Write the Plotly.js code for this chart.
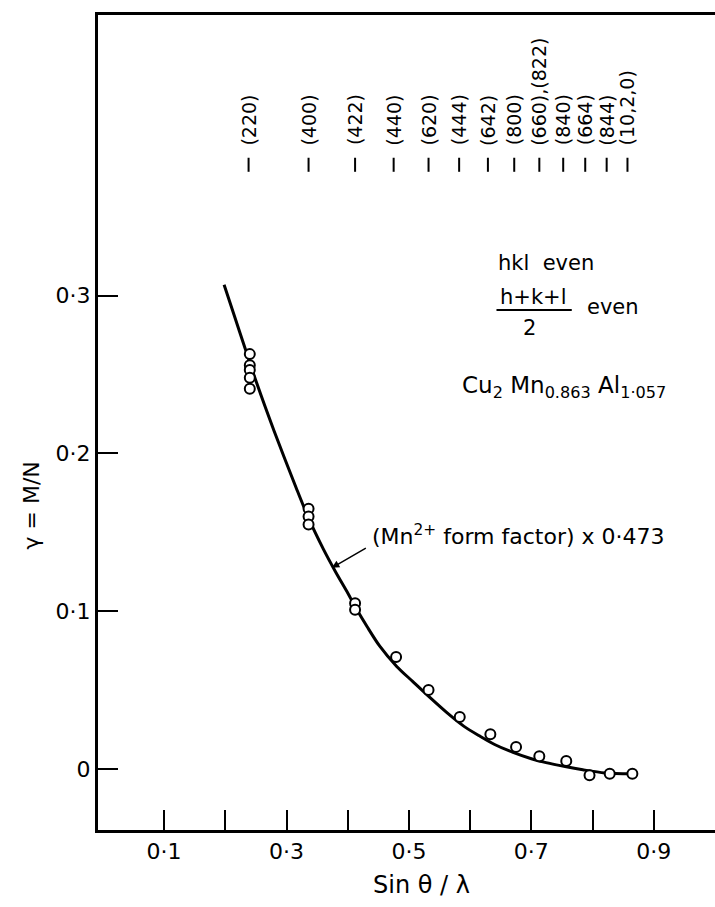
<!DOCTYPE html>
<html>
<head>
<meta charset="utf-8">
<script src="https://cdn.plot.ly/plotly-3.0.1.min.js"></script>
<style>html,body{margin:0;padding:0;background:#fff;}#chart{width:715px;height:907px;}</style>
</head>
<body>
<div id="chart"></div>
<script>
// Reflection labels and their sin(theta)/lambda positions
const hklLabels = ['(220)','(400)','(422)','(440)','(620)','(444)','(642)','(800)','(660),(822)','(840)','(664)','(844)','(10,2,0)'];
const hklPos = [0.238,0.336,0.412,0.475,0.532,0.582,0.629,0.672,0.713,0.752,0.788,0.823,0.857];

// Measured points gamma = M/N
const ptX = [0.240,0.240,0.240,0.240,0.240, 0.336,0.336,0.336, 0.412,0.412, 0.479,0.532,0.583,0.633,0.675,0.713,0.757,0.795,0.828,0.865];
const ptY = [0.263,0.256,0.253,0.248,0.241, 0.165,0.160,0.155, 0.105,0.101, 0.071,0.050,0.033,0.022,0.014,0.008,0.005,-0.004,-0.003,-0.003];

// Curve: (Mn2+ form factor) x 0.473
const curveX = [0.198,0.215,0.232,0.251,0.280,0.316,0.336,0.360,0.380,0.400,0.412,0.432,0.452,0.480,0.506,0.535,0.561,0.590,0.615,0.640,0.670,0.700,0.724,0.755,0.784,0.820,0.865];
const curveY = [0.307,0.287,0.267,0.245,0.214,0.178,0.159,0.1395,0.125,0.1115,0.103,0.090,0.078,0.065,0.0555,0.045,0.036,0.027,0.021,0.0155,0.0105,0.0065,0.004,0.0015,-0.0005,-0.0025,-0.003];

// Axis ticks
const xTickVals = [0.1,0.2,0.3,0.4,0.5,0.6,0.7,0.8,0.9];
const xTickText = ['0·1','','0·3','','0·5','','0·7','','0·9'];
const yTickVals = [0,0.1,0.2,0.3];
const yTickText = ['0','0·1','0·2','0·3'];

const FONT = 'DejaVu Sans, Liberation Sans, sans-serif';
const txt = (size) => ({family: FONT, size: size, color: '#000'});

const traces = [
  {x: curveX, y: curveY, mode: 'lines', type: 'scatter', line: {color: '#000', width: 3, shape: 'spline', smoothing: 0.8}, hoverinfo: 'skip'},
  {x: ptX, y: ptY, mode: 'markers', type: 'scatter',
   marker: {symbol: 'circle', size: 10, color: '#fff', line: {color: '#000', width: 2}}}
];

const annotations = hklLabels.map((t, i) => ({
  x: hklPos[i], y: 0.394, xref: 'x', yref: 'y', text: t, showarrow: false,
  textangle: -90, xanchor: 'center', yanchor: 'bottom', font: txt(19)
}));

annotations.push(
  {x: 0.643, y: 0.321, xref: 'x', yref: 'y', text: 'hkl  even', showarrow: false, xanchor: 'left', font: txt(21)},
  {x: 0.645, y: 0.2995, xref: 'x', yref: 'y', text: 'h+k+l', showarrow: false, xanchor: 'left', font: txt(21)},
  {x: 0.697, y: 0.2795, xref: 'x', yref: 'y', text: '2', showarrow: false, xanchor: 'center', font: txt(21)},
  {x: 0.787, y: 0.293, xref: 'x', yref: 'y', text: 'even', showarrow: false, xanchor: 'left', font: txt(21)},
  {x: 0.583, y: 0.2422, xref: 'x', yref: 'y', text: 'Cu<sub>2</sub> Mn<sub>0.863</sub> Al<sub>1·057</sub>', showarrow: false, xanchor: 'left', font: txt(23)},
  {x: 0.437, y: 0.1484, xref: 'x', yref: 'y', text: '(Mn<sup>2+</sup> form factor) x 0·473', showarrow: false, xanchor: 'left', font: txt(22)},
  {x: 0.374, y: 0.1275, xref: 'x', yref: 'y', ax: 0.432, ay: 0.1405, axref: 'x', ayref: 'y', text: '', showarrow: true, arrowhead: 2, arrowsize: 1, arrowwidth: 1.5, arrowcolor: '#000'},
  {x: 0.52, y: -0.0675, xref: 'x', yref: 'paper', text: 'Sin θ / λ', showarrow: false, xanchor: 'center', yanchor: 'middle', font: txt(24)},
  {x: -0.107, y: 0.167, xref: 'paper', yref: 'y', text: 'γ = M/N', showarrow: false, textangle: -90, xanchor: 'center', yanchor: 'middle', font: txt(22)}
);

// short vertical marks under each reflection label, placed at the reflection positions
const shapes = hklPos.map(p => ({
  type: 'line', xref: 'x', yref: 'y', x0: p, x1: p, y0: 0.3786, y1: 0.3875, line: {color: '#000', width: 2}
}));
shapes.push({type: 'line', xref: 'x', yref: 'y', x0: 0.643, x1: 0.766, y0: 0.291, y1: 0.291, line: {color: '#000', width: 2}});

const layout = {
  width: 715, height: 907,
  margin: {l: 98, r: 0, t: 15, b: 77},
  paper_bgcolor: '#fff', plot_bgcolor: '#fff',
  showlegend: false,
  font: {family: FONT, color: '#000'},
  xaxis: {
    range: [-0.008, 1.0], tickvals: xTickVals, ticktext: xTickText,
    ticks: 'inside', ticklen: 20, tickwidth: 2, tickcolor: '#000',
    showline: true, linewidth: 3, linecolor: '#000', mirror: true,
    showgrid: false, zeroline: false,
    tickfont: txt(22)
  },
  yaxis: {
    range: [-0.0387, 0.478], tickvals: yTickVals, ticktext: yTickText,
    ticks: 'inside', ticklen: 20, tickwidth: 2, tickcolor: '#000',
    showline: true, linewidth: 3, linecolor: '#000', mirror: false,
    showgrid: false, zeroline: false,
    tickfont: txt(22)
  },
  annotations: annotations,
  shapes: shapes
};

Plotly.newPlot('chart', traces, layout, {displayModeBar: false, staticPlot: true});
</script>
</body>
</html>
